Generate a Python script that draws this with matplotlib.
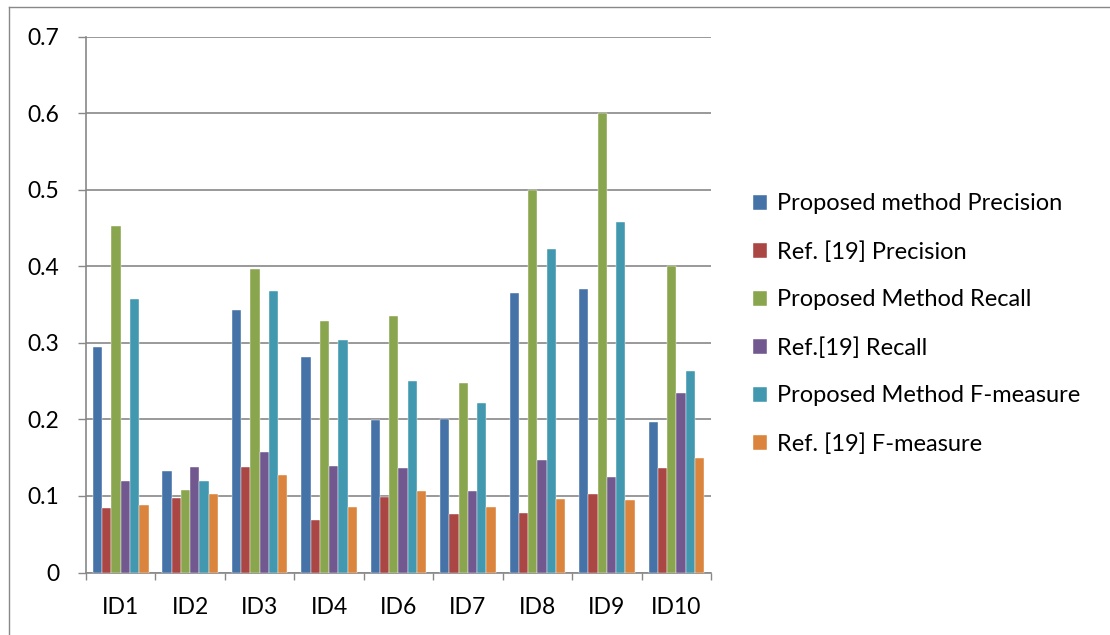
import numpy as np
import matplotlib
matplotlib.use("Agg")
from matplotlib import pyplot as plt
from matplotlib.lines import Line2D

plt.rcParams['font.family'] = ['Lato', 'DejaVu Sans']

ids = ['ID1', 'ID2', 'ID3', 'ID4', 'ID6', 'ID7', 'ID8', 'ID9', 'ID10']
names = ['Proposed method Precision', 'Ref. [19] Precision', 'Proposed Method Recall',
         'Ref.[19] Recall', 'Proposed Method F-measure', 'Ref. [19] F-measure']

pm_precision = [0.294, 0.133, 0.343, 0.282, 0.199, 0.200, 0.365, 0.370, 0.197]
ref_precision = [0.084, 0.097, 0.138, 0.068, 0.099, 0.077, 0.078, 0.103, 0.136]
pm_recall = [0.453, 0.108, 0.397, 0.328, 0.335, 0.248, 0.500, 0.600, 0.400]
ref_recall = [0.120, 0.138, 0.157, 0.139, 0.137, 0.106, 0.147, 0.125, 0.234]
pm_fmeasure = [0.357, 0.119, 0.368, 0.304, 0.250, 0.222, 0.422, 0.458, 0.263]
ref_fmeasure = [0.088, 0.103, 0.127, 0.086, 0.106, 0.086, 0.096, 0.095, 0.149]

series = [pm_precision, ref_precision, pm_recall, ref_recall, pm_fmeasure, ref_fmeasure]
colors = ['#4572A7', '#AA4643', '#89A54E', '#71588F', '#4198AF', '#DB843D']

yticks = [0, 0.1, 0.2, 0.3, 0.4, 0.5, 0.6, 0.7]
ytick_labels = ['0', '0.1', '0.2', '0.3', '0.4', '0.5', '0.6', '0.7']

gray = '#888888'

fig = plt.figure(figsize=(11.1, 6.35), dpi=100)
ax = fig.add_axes([86 / 1110, 1 - 572.5 / 635, 625 / 1110, 536 / 635])

x = np.arange(len(ids))
w = 0.8 / len(series)
for i, (vals, c, n) in enumerate(zip(series, colors, names)):
    ax.bar(x + (i - 2.5) * w, vals, width=w, color=c, label=n, zorder=3,
           edgecolor='white', linewidth=0.3)

ax.set_xlim(-0.5, len(ids) - 0.5)
ax.set_ylim(0, 0.7)
ax.set_yticks(yticks)
ax.set_yticklabels(ytick_labels)
ax.set_xticks(x)
ax.set_xticklabels(ids)
ax.set_xticks(np.arange(len(ids) + 1) - 0.5, minor=True)

ax.yaxis.grid(True, color=gray, linewidth=1.2, zorder=0)
ax.tick_params(axis='y', length=6, width=1, color=gray, pad=13, labelsize=16.5)
ax.tick_params(axis='x', which='major', length=0, pad=18, labelsize=16.5)
ax.tick_params(axis='x', which='minor', length=5, width=1, color=gray)
for s in ['top', 'right']:
    ax.spines[s].set_visible(False)
for s in ['left', 'bottom']:
    ax.spines[s].set_color(gray)
    ax.spines[s].set_linewidth(1.2)

fig.legend(loc='center left', bbox_to_anchor=(753 / 1110, 1 - 324 / 635),
           frameon=False, fontsize=17, handlelength=0.6, handleheight=0.6,
           handletextpad=0.4, labelspacing=1.13, borderpad=0, borderaxespad=0)

# outer frame
fig.add_artist(Line2D([8.5 / 1110, 8.5 / 1110], [0, 1 - 7 / 635],
                      transform=fig.transFigure, color=gray, lw=1))
fig.add_artist(Line2D([8.5 / 1110, 1], [1 - 7 / 635, 1 - 7 / 635],
                      transform=fig.transFigure, color=gray, lw=1))

fig.savefig('out.png', dpi=100)
